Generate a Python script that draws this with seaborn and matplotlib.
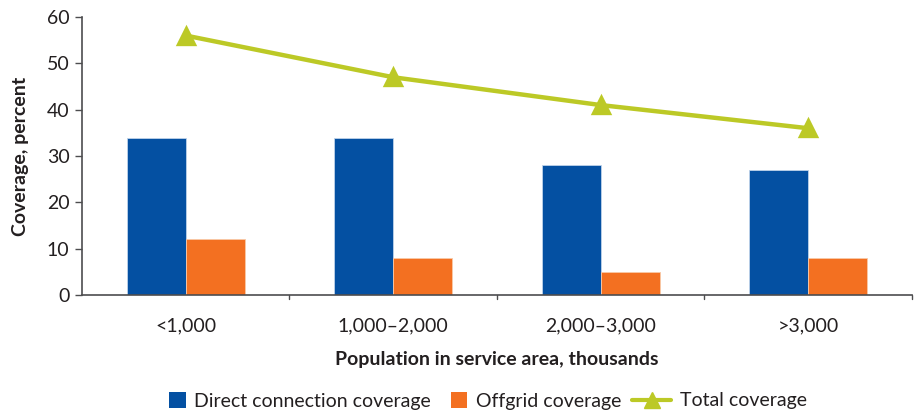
import matplotlib
matplotlib.use("Agg")
import matplotlib.pyplot as plt
import seaborn as sns
import pandas as pd
from matplotlib.lines import Line2D
from matplotlib.patches import Patch

categories = ["<1,000", "1,000–2,000", "2,000–3,000", ">3,000"]
direct = [34, 34, 28, 27]
offgrid = [12, 8, 5, 8]
total = [56, 47, 41, 36]

series_names = ["Direct connection coverage", "Offgrid coverage"]
line_name = "Total coverage"
colors = {"Direct connection coverage": "#0450A2", "Offgrid coverage": "#F37021"}
line_color = "#BCC926"

sns.set_theme(style="white")
plt.rcParams["font.family"] = ["Lato", "DejaVu Sans"]
text_color = "#231F20"

df = pd.DataFrame({
    "Population": categories * 2,
    "Series": [series_names[0]] * 4 + [series_names[1]] * 4,
    "Coverage": direct + offgrid,
})

fig = plt.figure(figsize=(9.14, 4.15), dpi=100)
ax = fig.add_axes([0.0897, 0.289, 0.908, 0.670])

sns.barplot(data=df, x="Population", y="Coverage", hue="Series",
            palette=colors, order=categories, hue_order=series_names,
            width=0.57, saturation=1, edgecolor="#BFD3EA", linewidth=0.6,
            ax=ax, legend=False)
for bar in ax.patches[4:]:
    bar.set_edgecolor("#F9C9A8")

sns.pointplot(x=categories, y=total, order=categories, color=line_color,
              markers="^", markersize=11, linewidth=3.2, ax=ax)

ax.set_xlim(-0.5, 3.5)
ax.set_ylim(0, 60)
ax.set_yticks(range(0, 61, 10))
ax.tick_params(axis="y", left=True, length=5, width=1, color="#4D4D4F",
               labelsize=14, labelcolor=text_color, pad=4)
ax.tick_params(axis="x", bottom=False, labelsize=14, labelcolor=text_color, pad=10)

# tick marks between the category groups
for b in [0.5, 1.5, 2.5, 3.5]:
    ax.plot([b, b], [0, -0.9], color="#4D4D4F", lw=1, clip_on=False)

for side in ["top", "right"]:
    ax.spines[side].set_visible(False)
for side in ["left", "bottom"]:
    ax.spines[side].set_color("#4D4D4F")
    ax.spines[side].set_linewidth(1.2)

ax.set_ylabel("Coverage, percent", fontsize=14, fontweight="bold", color=text_color, labelpad=13)
ax.set_xlabel("Population in service area, thousands", fontsize=14, fontweight="bold",
              color=text_color, labelpad=12)

# Legend: square swatches for the bars, a longer line swatch for the total
bar_handles = [Patch(facecolor=colors[n], edgecolor="none") for n in series_names]
fig.legend(bar_handles, series_names, loc="center left",
           bbox_to_anchor=(0.185, 0.034), ncol=2, frameon=False,
           fontsize=14, handlelength=0.85, handleheight=0.85,
           columnspacing=1.0, handletextpad=0.45, borderpad=0,
           borderaxespad=0, labelcolor=text_color)
line_handle = Line2D([0], [0], color=line_color, lw=3, marker="^", markersize=11)
fig.legend([line_handle], [line_name], loc="center left",
           bbox_to_anchor=(0.692, 0.034), frameon=False, fontsize=14,
           handlelength=2.0, handletextpad=0.45, borderpad=0, borderaxespad=0,
           labelcolor=text_color)

fig.savefig("out.png", dpi=100)
